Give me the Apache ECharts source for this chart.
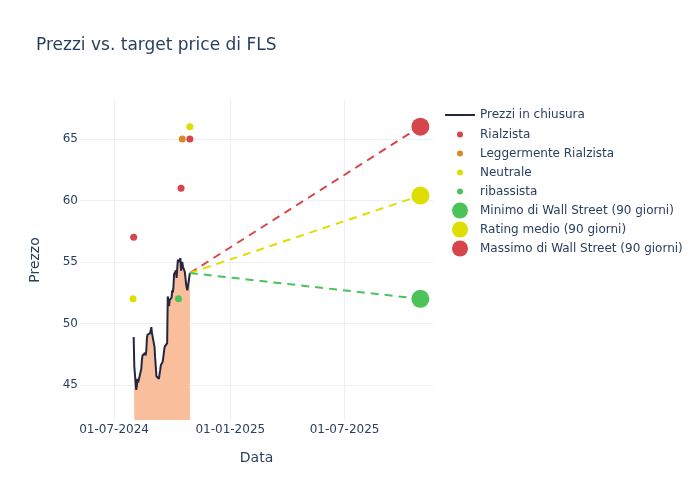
<!DOCTYPE html>
<html>
<head>
<meta charset="utf-8">
<script src="https://cdn.jsdelivr.net/npm/echarts@6/dist/echarts.min.js"></script>
<style>html,body{margin:0;padding:0;background:#fff}#c{width:700px;height:500px}</style>
</head>
<body>
<div id="c"></div>
<script>
// ---- data ----
const priceDates = [
 '2024-08-01','2024-08-02','2024-08-05','2024-08-06','2024-08-07','2024-08-08','2024-08-09',
 '2024-08-12','2024-08-13','2024-08-14','2024-08-15','2024-08-16','2024-08-19','2024-08-20',
 '2024-08-21','2024-08-22','2024-08-23','2024-08-26','2024-08-27','2024-08-28','2024-08-29',
 '2024-08-30','2024-09-03','2024-09-04','2024-09-05','2024-09-06','2024-09-09','2024-09-10',
 '2024-09-11','2024-09-12','2024-09-13','2024-09-16','2024-09-17','2024-09-18','2024-09-19',
 '2024-09-20','2024-09-23','2024-09-24','2024-09-25','2024-09-26','2024-09-27','2024-09-30',
 '2024-10-01','2024-10-02','2024-10-03','2024-10-04','2024-10-07','2024-10-08','2024-10-09',
 '2024-10-10','2024-10-11','2024-10-14','2024-10-15','2024-10-16','2024-10-17','2024-10-18',
 '2024-10-21','2024-10-22','2024-10-23','2024-10-24','2024-10-25','2024-10-28','2024-10-29'
];
const closePrices = [
 48.9,46.5,44.6,44.9,45.5,45.2,45.4,
 45.3,46.3,47.0,47.4,47.3,47.6,47.4,
 47.8,48.8,49.1,49.0,49.2,49.1,49.7,
 49.2,48.1,47.2,46.5,45.7,45.8,45.5,
 45.9,46.2,46.6,46.9,47.0,46.8,48.1,
 48.2,48.4,52.2,51.9,51.4,51.9,52.1,
 52.7,52.5,53.0,54.0,54.3,53.7,54.5,
 55.2,55.0,55.3,54.3,54.6,55.0,54.6,
 54.2,53.7,53.2,52.9,52.7,52.8,54.1
];
const rialzistaDates = ['2024-08-01','2024-10-15','2024-10-29'];
const rialzistaValues = [57, 61, 65];
const leggRialzistaDates = ['2024-10-17'];
const leggRialzistaValues = [65];
const neutraleDates = ['2024-07-31','2024-10-29'];
const neutraleValues = [52, 66];
const ribassistaDates = ['2024-10-11'];
const ribassistaValues = [52];
const targetDate = '2025-10-29';
const targetMin = 52;
const targetMean = 60.4;
const targetMax = 66;
const xTickDates = ['2024-07-01','2025-01-01','2025-07-01'];
const yTicks = [45, 50, 55, 60, 65];

// ---- helpers ----
function ts(s){ const p = s.split('-').map(Number); return new Date(p[0], p[1]-1, p[2]).getTime(); }
function zip(d, v){ return d.map((x,i)=>[ts(x), v[i]]); }
function fmt(v){ const d = new Date(v); const p = n => String(n).padStart(2,'0'); return p(d.getDate())+'-'+p(d.getMonth()+1)+'-'+d.getFullYear(); }

const C_RED = '#d6454c', C_ORANGE = '#da8b25', C_YEL = '#dede00', C_GRN = '#4cc35a';
const C_LINE = '#232842';
const TXT = '#2a3f5f', GRID = '#ebf0f8';
const lastDate = ts(priceDates[priceDates.length-1]);
const lastPrice = closePrices[closePrices.length-1];
const tDate = ts(targetDate);
const xTickVals = xTickDates.map(ts);

const chart = echarts.init(document.getElementById('c'), null, {renderer:'canvas'});
const legendText = {color: TXT, fontSize: 12, fontFamily: 'DejaVu Sans'};
chart.setOption({
  animation: false,
  textStyle: {fontFamily: 'DejaVu Sans'},
  title: {text: 'Prezzi vs. target price di FLS', left: 36, top: 37, padding: 0,
    textStyle: {color: TXT, fontSize: 17, fontWeight: 'normal', fontFamily: 'DejaVu Sans'}},
  grid: {left: 80, right: 267, top: 100, bottom: 80, containLabel: false},
  legend: [
    {orient: 'vertical', left: 445, top: 109, padding: 0, itemWidth: 30, itemHeight: 2, itemGap: 5,
     data: [{name: 'Prezzi in chiusura', icon: 'rect', itemStyle: {color: C_LINE}}], textStyle: legendText, selectedMode: false},
    {orient: 'vertical', left: 457, top: 128.5, padding: 0, itemWidth: 30, itemHeight: 6, itemGap: 7,
     icon: 'circle', data: ['Rialzista','Leggermente Rialzista','Neutrale','ribassista'], textStyle: legendText, selectedMode: false},
    {orient: 'vertical', left: 452, top: 202.5, padding: 0, itemWidth: 30, itemHeight: 16, itemGap: 3,
     icon: 'circle', data: ['Minimo di Wall Street (90 giorni)','Rating medio (90 giorni)','Massimo di Wall Street (90 giorni)'], textStyle: legendText, selectedMode: false}
  ],
  xAxis: {
    type: 'value', min: ts('2024-05-08'), max: ts('2025-11-18'), scale: true,
    name: 'Data', nameLocation: 'middle', nameGap: 31,
    nameTextStyle: {color: TXT, fontSize: 14},
    axisLine: {show: false}, axisTick: {show: false, customValues: xTickVals},
    axisLabel: {color: TXT, fontSize: 12, margin: 4, customValues: xTickVals, formatter: fmt, hideOverlap: false},
    splitLine: {show: true, customValues: xTickVals, lineStyle: {color: GRID, width: 1}}
  },
  yAxis: {
    type: 'value', min: 42.15, max: 68.17, scale: true,
    name: 'Prezzo', nameLocation: 'middle', nameGap: 38,
    nameTextStyle: {color: TXT, fontSize: 14},
    axisLine: {show: false}, axisTick: {show: false, customValues: yTicks},
    axisLabel: {color: TXT, fontSize: 12, margin: 2, customValues: yTicks},
    splitLine: {show: true, customValues: yTicks, lineStyle: {color: GRID, width: 1}}
  },
  series: [
    {name: 'Prezzi in chiusura', type: 'line', data: zip(priceDates, closePrices), symbol: 'none',
     lineStyle: {color: C_LINE, width: 2}, itemStyle: {color: C_LINE},
     areaStyle: {color: '#f9be9b', opacity: 1}, z: 2},
    {name: 'dashMax', type: 'line', data: [[lastDate, lastPrice],[tDate, targetMax]], symbol: 'none',
     lineStyle: {color: C_RED, width: 2, type: [8,6]}, z: 3},
    {name: 'dashMean', type: 'line', data: [[lastDate, lastPrice],[tDate, targetMean]], symbol: 'none',
     lineStyle: {color: C_YEL, width: 2, type: [8,6]}, z: 3},
    {name: 'dashMin', type: 'line', data: [[lastDate, lastPrice],[tDate, targetMin]], symbol: 'none',
     lineStyle: {color: C_GRN, width: 2, type: [8,6]}, z: 3},
    {name: 'Rialzista', type: 'scatter', data: zip(rialzistaDates, rialzistaValues), symbolSize: 7, itemStyle: {color: C_RED, opacity: 1}, z: 4},
    {name: 'Leggermente Rialzista', type: 'scatter', data: zip(leggRialzistaDates, leggRialzistaValues), symbolSize: 7, itemStyle: {color: C_ORANGE, opacity: 1}, z: 4},
    {name: 'Neutrale', type: 'scatter', data: zip(neutraleDates, neutraleValues), symbolSize: 7, itemStyle: {color: C_YEL, opacity: 1}, z: 4},
    {name: 'ribassista', type: 'scatter', data: zip(ribassistaDates, ribassistaValues), symbolSize: 7, itemStyle: {color: C_GRN, opacity: 1}, z: 4},
    {name: 'Minimo di Wall Street (90 giorni)', type: 'scatter', data: [[tDate, targetMin]], symbolSize: 18, itemStyle: {color: C_GRN, opacity: 1}, z: 5},
    {name: 'Rating medio (90 giorni)', type: 'scatter', data: [[tDate, targetMean]], symbolSize: 18, itemStyle: {color: C_YEL, opacity: 1}, z: 5},
    {name: 'Massimo di Wall Street (90 giorni)', type: 'scatter', data: [[tDate, targetMax]], symbolSize: 18, itemStyle: {color: C_RED, opacity: 1}, z: 5}
  ]
});
</script>
</body>
</html>
